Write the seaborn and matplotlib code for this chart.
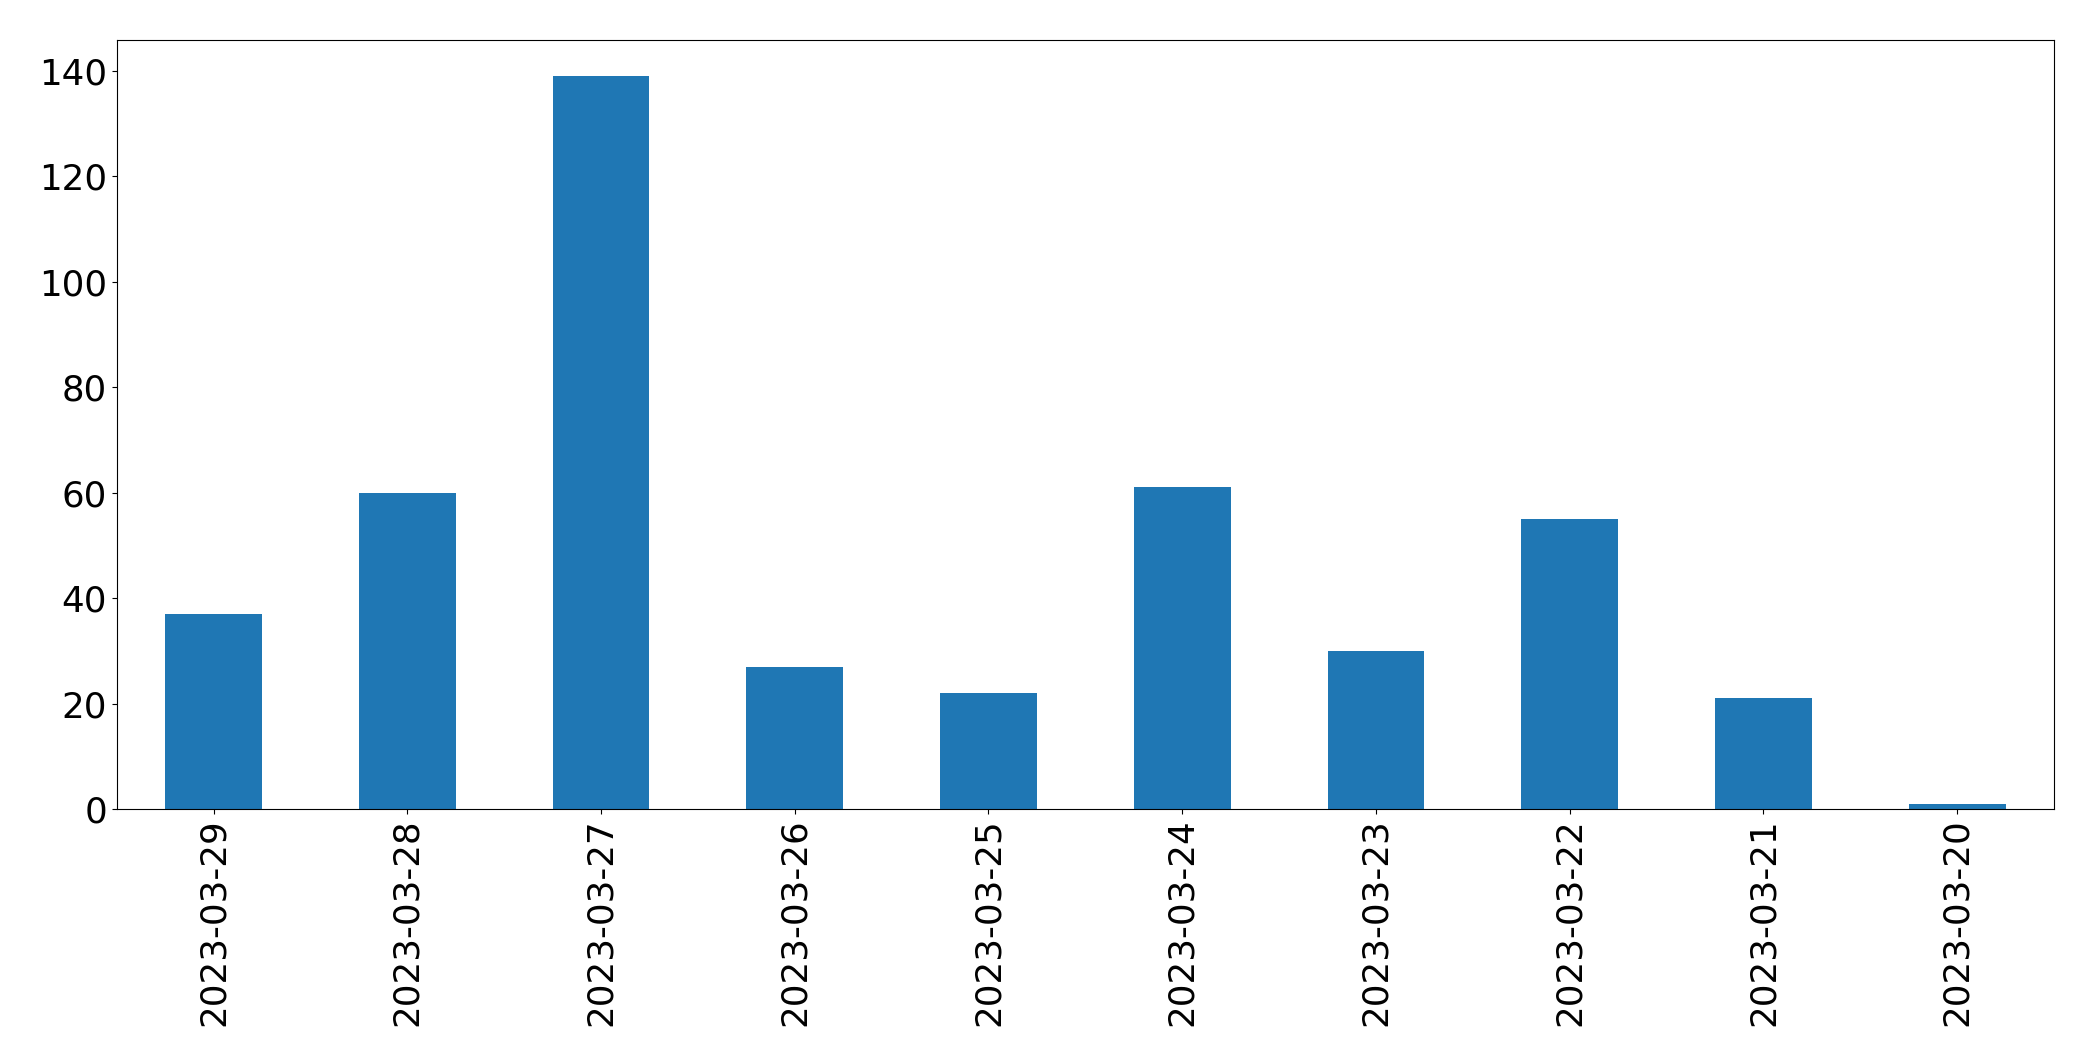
import pandas as pd
import seaborn as sns
import matplotlib.pyplot as plt

dates = ["2023-03-29", "2023-03-28", "2023-03-27", "2023-03-26", "2023-03-25",
         "2023-03-24", "2023-03-23", "2023-03-22", "2023-03-21", "2023-03-20"]
counts = [37, 60, 139, 27, 22, 61, 30, 55, 21, 1]

df = pd.DataFrame({"date": dates, "count": counts})

fig, ax = plt.subplots(figsize=(20.93, 10.61), dpi=100)
fig.subplots_adjust(left=116.7 / 2093, right=2054 / 2093, top=1 - 39.7 / 1061, bottom=1 - 809 / 1061)

sns.barplot(data=df, x="date", y="count", order=dates, color="#1f77b4",
            saturation=1, width=0.5, ax=ax)

ax.set_xlim(-0.5, len(dates) - 0.5)
ax.set_ylim(0, max(counts) * 1.05)
ax.set_xlabel("")
ax.set_ylabel("")
ax.tick_params(axis="x", labelsize=25.7, rotation=90)
ax.tick_params(axis="y", labelsize=25.7)

fig.savefig("out.png", dpi=100)
